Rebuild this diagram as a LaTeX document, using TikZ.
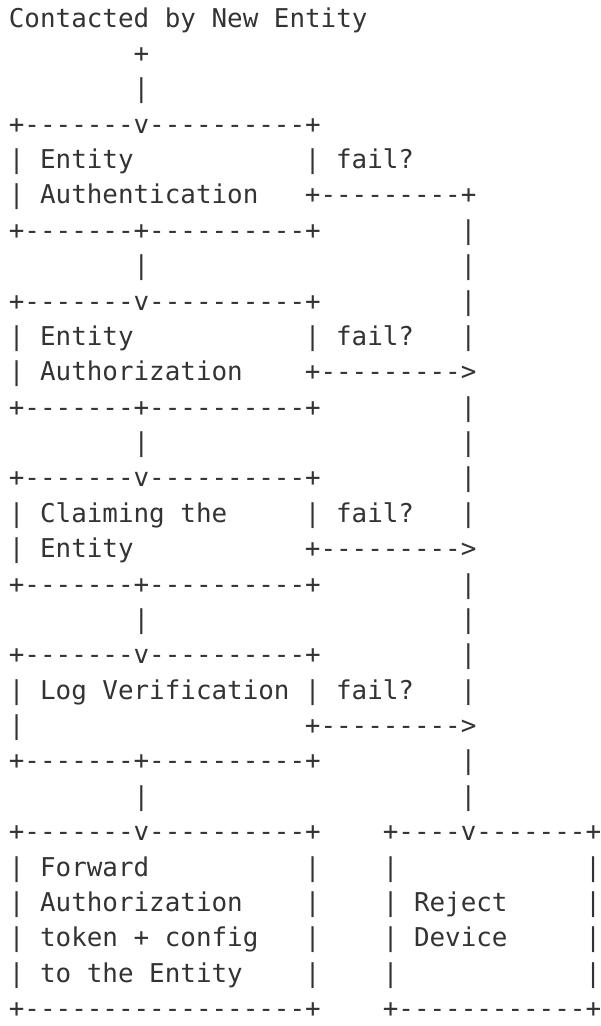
\documentclass[tikz,border=0pt]{standalone}
\usepackage{fontspec}
\newfontfamily\asciimono{DejaVu Sans Mono}
\definecolor{ink}{HTML}{333333}
\newcommand\cell[4]{\node[ascii] (#1) at ({8.9+#2*15.58},{-(27+(#3-1)*35.38)}) {#4};}
\begin{document}
\begin{tikzpicture}[x=1pt,y=1pt,
  ascii/.style={anchor=base west,inner sep=0pt,outer sep=0pt,text=ink,
    font=\asciimono\fontsize{25.9}{30}\selectfont}]
\useasboundingbox (0,0) rectangle (601,-1026);
% title and entry
\cell{title}{0}{1}{Contacted by New Entity}
\cell{r2}{8}{2}{+}
\cell{r3}{8}{3}{|}
% box 1
\cell{r4}{0}{4}{+-------v----------+}
\cell{r5a}{0}{5}{| Entity}
\cell{r5b}{19}{5}{| fail?}
\cell{r6a}{0}{6}{| Authentication}
\cell{r6b}{19}{6}{+---------+}
\cell{r7a}{0}{7}{+-------+----------+}
\cell{r7b}{29}{7}{|}
\cell{r8a}{8}{8}{|}
\cell{r8b}{29}{8}{|}
% box 2
\cell{r9a}{0}{9}{+-------v----------+}
\cell{r9b}{29}{9}{|}
\cell{r10a}{0}{10}{| Entity}
\cell{r10b}{19}{10}{| fail?}
\cell{r10c}{29}{10}{|}
\cell{r11a}{0}{11}{| Authorization}
\cell{r11b}{19}{11}{+--------->}
\cell{r12a}{0}{12}{+-------+----------+}
\cell{r12b}{29}{12}{|}
\cell{r13a}{8}{13}{|}
\cell{r13b}{29}{13}{|}
% box 3
\cell{r14a}{0}{14}{+-------v----------+}
\cell{r14b}{29}{14}{|}
\cell{r15a}{0}{15}{| Claiming the}
\cell{r15b}{19}{15}{| fail?}
\cell{r15c}{29}{15}{|}
\cell{r16a}{0}{16}{| Entity}
\cell{r16b}{19}{16}{+--------->}
\cell{r17a}{0}{17}{+-------+----------+}
\cell{r17b}{29}{17}{|}
\cell{r18a}{8}{18}{|}
\cell{r18b}{29}{18}{|}
% box 4
\cell{r19a}{0}{19}{+-------v----------+}
\cell{r19b}{29}{19}{|}
\cell{r20a}{0}{20}{| Log Verification}
\cell{r20b}{19}{20}{| fail?}
\cell{r20c}{29}{20}{|}
\cell{r21a}{0}{21}{|}
\cell{r21b}{19}{21}{+--------->}
\cell{r22a}{0}{22}{+-------+----------+}
\cell{r22b}{29}{22}{|}
\cell{r23a}{8}{23}{|}
\cell{r23b}{29}{23}{|}
% final boxes
\cell{r24a}{0}{24}{+-------v----------+}
\cell{r24b}{24}{24}{+----v-------+}
\cell{r25a}{0}{25}{| Forward}
\cell{r25b}{19}{25}{|}
\cell{r25c}{24}{25}{|}
\cell{r25d}{37}{25}{|}
\cell{r26a}{0}{26}{| Authorization}
\cell{r26b}{19}{26}{|}
\cell{r26c}{24}{26}{| Reject}
\cell{r26d}{37}{26}{|}
\cell{r27a}{0}{27}{| token + config}
\cell{r27b}{19}{27}{|}
\cell{r27c}{24}{27}{| Device}
\cell{r27d}{37}{27}{|}
\cell{r28a}{0}{28}{| to the Entity}
\cell{r28b}{19}{28}{|}
\cell{r28c}{24}{28}{|}
\cell{r28d}{37}{28}{|}
\cell{r29a}{0}{29}{+------------------+}
\cell{r29b}{24}{29}{+------------+}
\end{tikzpicture}
\end{document}
